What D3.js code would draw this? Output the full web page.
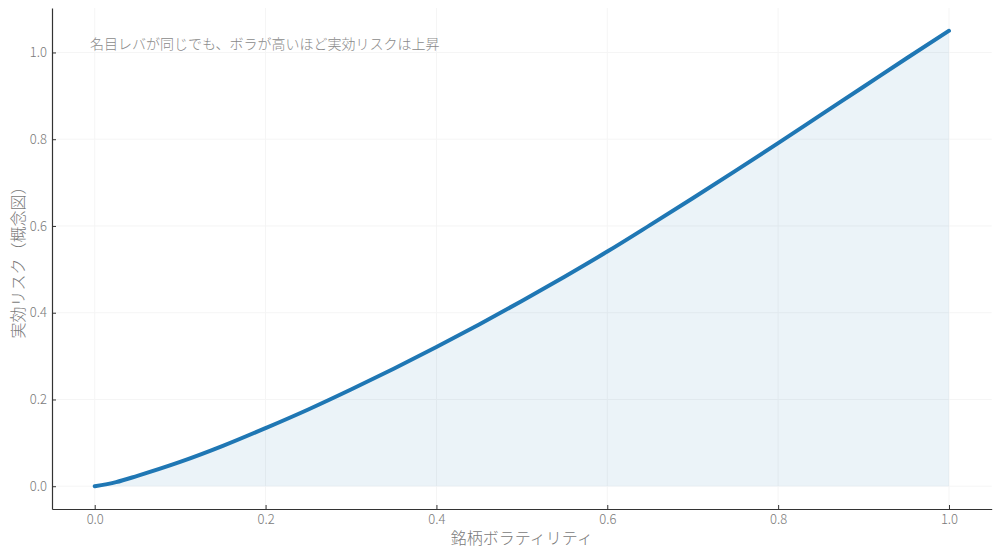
<!DOCTYPE html>
<html>
<head>
<meta charset="utf-8">
<script src="https://cdn.jsdelivr.net/npm/d3@7"></script>
<style>
  body { margin: 0; background: #fff; }
  svg { display: block; font-family: "Noto Sans CJK JP", "Noto Sans", sans-serif; }
</style>
</head>
<body>
<div id="chart"></div>
<script>
// values
var volatility = [0, 0.025, 0.05, 0.1, 0.15, 0.2, 0.25, 0.3, 0.35, 0.4, 0.45, 0.5,
                  0.55, 0.6, 0.65, 0.7, 0.75, 0.8, 0.85, 0.9, 0.95, 1.0];
var effRisk = [0, 0.0095, 0.024, 0.056, 0.093, 0.134, 0.177, 0.223, 0.271, 0.321, 0.373, 0.427,
               0.483, 0.541, 0.602, 0.664, 0.727, 0.791, 0.856, 0.921, 0.986, 1.05];
var xTicks = [0, 0.2, 0.4, 0.6, 0.8, 1.0];
var yTicks = [0, 0.2, 0.4, 0.6, 0.8, 1.0];
var note = '名目レバが同じでも、ボラが高いほど実効リスクは上昇';
var xLabel = '銘柄ボラティリティ';
var yLabel = '実効リスク（概念図）';

var W = 1000, H = 558;
var plotL = 52, plotR = 991.7, plotT = 8, plotB = 509;

var svg = d3.select('#chart').append('svg')
  .attr('width', W)
  .attr('height', H);

var x = d3.scaleLinear().domain([-0.05, 1.05]).range([plotL, plotR]);
var y = d3.scaleLinear().domain([-0.0525, 1.1025]).range([plotB, plotT]);

var pts = volatility.map(function(v, i) { return [v, effRisk[i]]; });

// faint grid
var grid = svg.append('g');
grid.selectAll('.gx').data(xTicks).enter().append('line')
  .attr('x1', function(d) { return x(d); }).attr('x2', function(d) { return x(d); })
  .attr('y1', plotT).attr('y2', plotB)
  .attr('stroke', '#f5f5f5').attr('stroke-width', 1);
grid.selectAll('.gy').data(yTicks).enter().append('line')
  .attr('y1', function(d) { return y(d); }).attr('y2', function(d) { return y(d); })
  .attr('x1', plotL).attr('x2', plotR)
  .attr('stroke', '#f5f5f5').attr('stroke-width', 1);

// shaded area under curve
var area = d3.area()
  .x(function(d) { return x(d[0]); })
  .y0(y(0))
  .y1(function(d) { return y(d[1]); })
  .curve(d3.curveMonotoneX);
svg.append('path')
  .datum(pts)
  .attr('d', area)
  .attr('fill', '#1f77b4')
  .attr('fill-opacity', 0.09);

var line = d3.line()
  .x(function(d) { return x(d[0]); })
  .y(function(d) { return y(d[1]); })
  .curve(d3.curveMonotoneX);
svg.append('path')
  .datum(pts)
  .attr('d', line)
  .attr('fill', 'none')
  .attr('stroke', '#1f77b4')
  .attr('stroke-width', 4)
  .attr('stroke-linecap', 'round');

// axes (left and bottom spines only, ticks inward)
var fmt = d3.format('.1f');
var gx = svg.append('g')
  .attr('transform', 'translate(0,' + plotB + ')')
  .call(d3.axisBottom(x).tickValues(xTicks).tickFormat(fmt).tickSizeInner(-4).tickSizeOuter(0).tickPadding(6));
var gy = svg.append('g')
  .attr('transform', 'translate(' + plotL + ',0)')
  .call(d3.axisLeft(y).tickValues(yTicks).tickFormat(fmt).tickSizeInner(-4).tickSizeOuter(0).tickPadding(5));

[gx, gy].forEach(function(g) {
  g.select('.domain').attr('stroke', '#333').attr('stroke-width', 1.2);
  g.selectAll('.tick line').attr('stroke', '#333').attr('stroke-width', 1);
  g.selectAll('.tick text')
    .attr('fill', '#7a7a7a')
    .style('font-size', '13px')
    .style('font-weight', 300)
    .style('font-family', '"Noto Sans CJK JP", "Noto Sans", sans-serif');
});

// texts
svg.append('text')
  .attr('x', 90).attr('y', 49)
  .attr('fill', '#8a8a8a')
  .style('font-size', '14px')
  .style('font-weight', 300)
  .text(note);

svg.append('text')
  .attr('x', (x(-0.05) + x(1.05)) / 2).attr('y', 544)
  .attr('text-anchor', 'middle')
  .attr('fill', '#7a7a7a')
  .style('font-size', '16px')
  .style('font-weight', 300)
  .text(xLabel);

svg.append('text')
  .attr('transform', 'translate(24,' + ((plotT + plotB) / 2) + ') rotate(-90)')
  .attr('text-anchor', 'middle')
  .attr('fill', '#7a7a7a')
  .style('font-size', '16px')
  .style('font-weight', 300)
  .text(yLabel);
</script>
</body>
</html>
